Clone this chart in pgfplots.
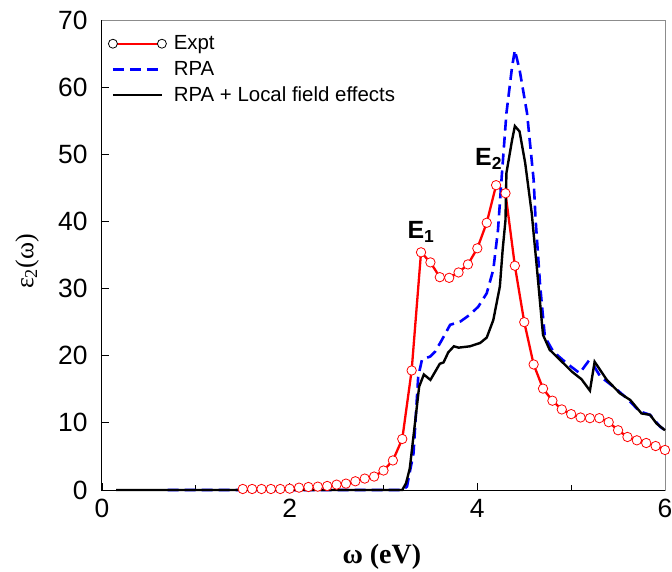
\documentclass[border=0pt]{standalone}
\usepackage{fontspec}
\setmainfont{Liberation Sans}
\newfontfamily\timesfont{Liberation Serif}
\usepackage{pgfplots}
\pgfplotsset{compat=1.18}
\pgfplotstableread{
x y
1.5 0.15
1.6 0.15
1.7 0.15
1.8 0.15
1.9 0.15
2.0 0.2
2.1 0.35
2.2 0.45
2.3 0.5
2.4 0.6
2.5 0.8
2.6 0.95
2.7 1.3
2.8 1.7
2.9 2.0
3.0 2.9
3.1 4.4
3.2 7.6
3.3 17.8
3.4 35.4
3.5 33.9
3.6 31.7
3.7 31.6
3.8 32.4
3.9 33.6
4.0 36.0
4.1 39.8
4.2 45.4
4.3 44.2
4.4 33.4
4.5 25.0
4.6 18.7
4.7 15.1
4.8 13.3
4.9 12.0
5.0 11.3
5.1 10.8
5.2 10.7
5.3 10.7
5.4 10.1
5.5 8.9
5.6 7.9
5.7 7.4
5.8 7.0
5.9 6.55
6.0 5.96
}\expt
\pgfplotstableread{
x y
0.7 0
3.2 0
3.25 0.5
3.32 5.5
3.37 16.9
3.41 19.4
3.50 19.9
3.55 20.6
3.62 22.3
3.71 24.6
3.82 25.1
3.92 26.1
4.01 27.3
4.10 29.3
4.17 32.8
4.22 38.7
4.26 46.7
4.31 56.1
4.37 63.0
4.40 65.5
4.45 62.6
4.53 56.1
4.60 46.2
4.62 40.5
4.67 30.3
4.72 22.8
4.81 20.6
4.95 18.9
5.09 17.4
5.18 19.1
5.25 18.3
5.31 16.9
5.45 15.4
5.59 13.7
5.73 11.7
5.84 11.2
5.95 9.4
6.00 8.9
}\rpa
\pgfplotstableread{
x y
0.15 0
3.2 0
3.24 1.0
3.28 3.2
3.38 15.4
3.43 17.2
3.50 16.4
3.60 18.8
3.64 19.0
3.69 20.5
3.75 21.4
3.80 21.2
3.92 21.4
4.03 21.9
4.10 22.7
4.17 25.3
4.24 30.3
4.27 35.8
4.30 40.2
4.31 47.2
4.37 52.1
4.40 54.2
4.45 53.4
4.51 48.7
4.58 41.2
4.61 36.7
4.63 33.8
4.70 23.1
4.77 20.9
4.88 19.4
5.01 17.6
5.11 16.5
5.20 14.8
5.25 19.1
5.38 16.4
5.52 14.4
5.63 13.4
5.75 11.4
5.84 11.2
5.91 9.9
6.00 8.9
}\lfe
\pgfplotsset{
  exptleg/.style={legend image code/.code={
    \draw[red, line width=2.3bp] (0bp,0bp) -- (49bp,0bp);
    \draw[black, fill=white, line width=0.8bp] (0bp,0bp) circle (4.5bp) (49bp,0bp) circle (4.5bp);}},
  rpaleg/.style={legend image code/.code={
    \draw[blue, line width=2.6bp, dash pattern=on 11bp off 6bp] (0bp,0bp) -- (49bp,0bp);}},
  lfeleg/.style={legend image code/.code={
    \draw[black, line width=2.4bp] (0bp,0bp) -- (49bp,0bp);}},
}
\begin{document}
\begin{tikzpicture}
\path[use as bounding box] (-102bp,-82bp) rectangle (570bp,490bp);
\begin{axis}[
  scale only axis, width=563bp, height=470bp,
  at={(0,0)}, anchor=south west,
  xmin=0, xmax=6, ymin=0, ymax=70,
  xtick={0,2,4,6}, minor xtick={1,3,5},
  ytick={0,10,...,70},
  xtick pos=bottom, ytick pos=left,
  tick align=inside,
  major tick length=7bp, minor tick length=5bp,
  tick style={black, line width=0.8bp},
  axis line style={black!45, line width=1bp},
  /pgf/number format/assume math mode=true,
  ticklabel style={font=\fontsize{26.5}{30}\selectfont},
  yticklabel style={xshift=-11bp},
  xticklabel style={yshift=-6bp},
  xlabel={\timesfont\bfseries ω (eV)},
  ylabel={\timesfont ε\textsubscript{2}(ω)},
  every axis x label/.style={at={(axis description cs:0.497,-0.143)}, anchor=center, font=\fontsize{28}{32}\selectfont},
  every axis y label/.style={at={(axis description cs:-0.133,0.486)}, anchor=center, rotate=90, font=\fontsize{26}{30}\selectfont},
  legend style={draw=none, fill=none, at={(0.005,0.975)}, anchor=north west,
    font=\fontsize{20.5}{24}\selectfont, row sep=6bp,
    /tikz/every odd column/.append style={column sep=5bp}},
  legend cell align=left,
  clip=false,
]
\addplot[red, line width=2.3bp, mark=*, mark size=4.7bp,
  mark options={draw=red, fill=white, line width=0.8bp}, exptleg] table {\expt};
\addlegendentry{Expt}
\addplot[blue, line width=2.6bp, dash pattern=on 11bp off 6bp, rpaleg] table {\rpa};
\addlegendentry{RPA}
\addplot[black, line width=2.4bp, lfeleg] table {\lfe};
\addlegendentry{RPA + Local field effects}
\draw[black, line width=1bp] (rel axis cs:0,1) -- (rel axis cs:0,0) -- (rel axis cs:1,0);
\node[font=\fontsize{25}{30}\selectfont\bfseries] at (axis cs:3.40,38.4) {E\textsubscript{1}};
\node[font=\fontsize{25}{30}\selectfont\bfseries] at (axis cs:4.12,49.3) {E\textsubscript{2}};
\end{axis}
\end{tikzpicture}
\end{document}
